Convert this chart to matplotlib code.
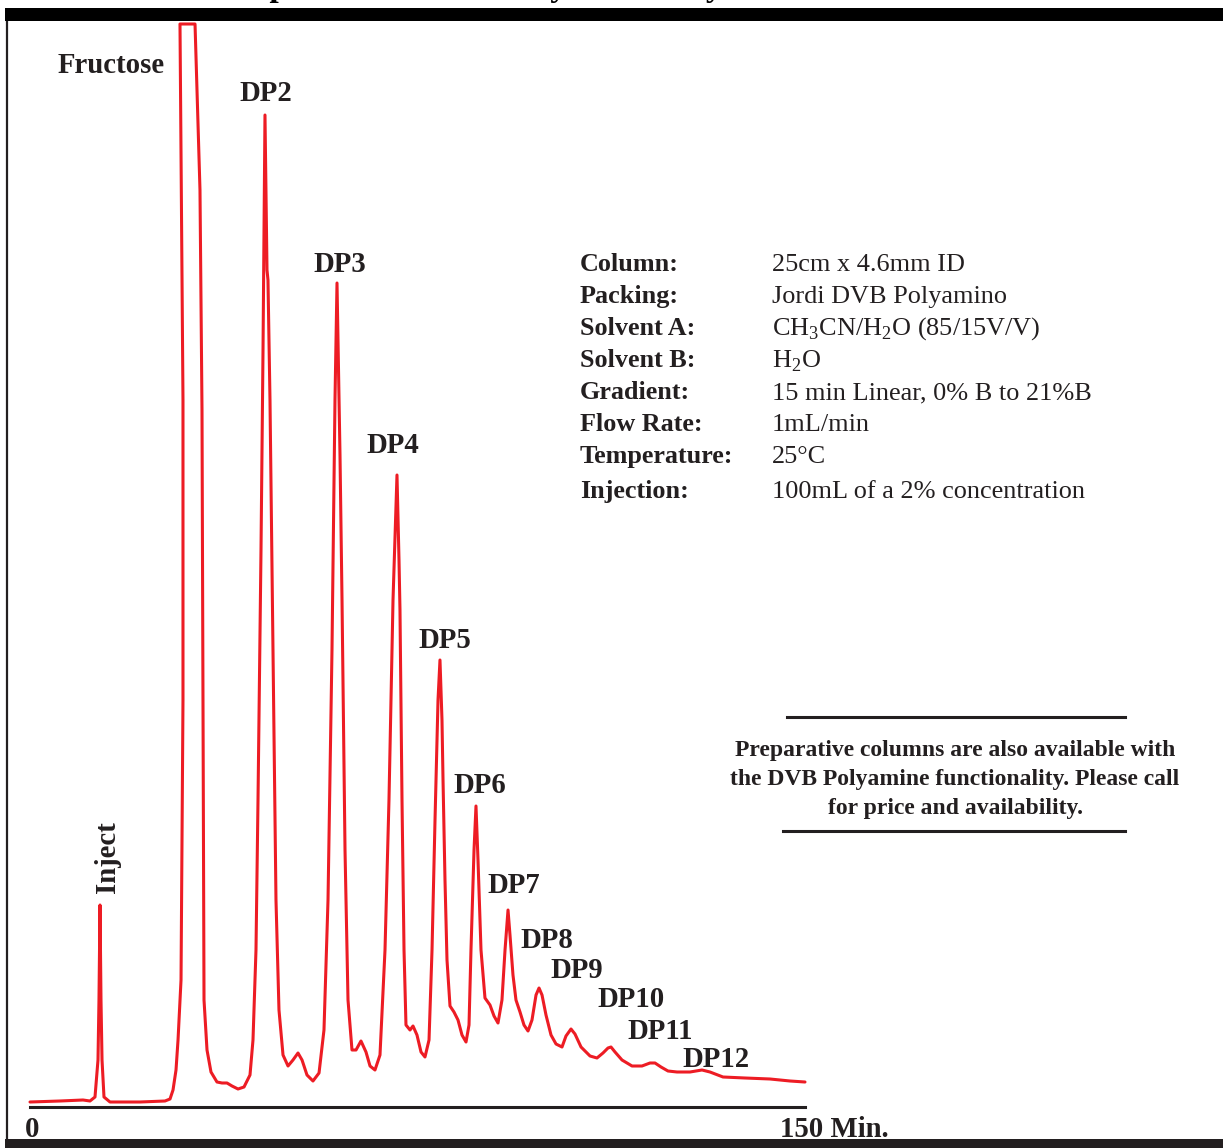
"""
Chromatogram: Jordi DVB Polyamino separation of fructose oligomers (DP2-DP12)
"""
import matplotlib
matplotlib.use('Agg')
import matplotlib.pyplot as plt
from matplotlib.patches import Rectangle
from matplotlib.lines import Line2D

plt.rcParams['font.family'] = ['Liberation Serif', 'DejaVu Serif']
plt.rcParams['mathtext.fontset'] = 'custom'
plt.rcParams['mathtext.rm'] = 'Liberation Serif'

# ---- data (time in min, detector signal in mV) ----
time_min = [
    0.00, 5.81, 10.26, 11.61, 12.58, 13.16, 13.35, 13.55, 13.74, 13.94, 14.32, 15.48, 21.29, 26.13,
    27.10, 27.68, 28.26, 28.65, 29.23, 29.61, 29.61, 29.03, 31.94, 32.90, 33.29, 33.48, 33.68,
    34.26, 35.03, 36.19, 37.16, 38.13, 39.10, 40.26, 41.42, 42.58,
    43.16, 43.74, 44.13, 44.71, 45.10, 45.48, 45.87, 46.06, 46.45, 47.03, 47.61, 48.19, 48.97,
    49.94, 50.90, 51.87, 52.65, 53.61, 54.77, 55.94,
    56.90, 57.68, 58.45, 59.03, 59.42, 59.81, 60.00, 60.39, 60.97, 61.55, 62.32, 63.10, 64.06,
    65.03, 65.81, 66.77, 67.74,
    68.71, 69.48, 70.26, 71.03, 71.42, 71.61, 72.00, 72.39, 72.77, 73.55, 74.13, 74.90, 75.68,
    76.45, 77.23,
    77.81, 78.39, 78.97, 79.35, 79.74, 79.94, 80.32, 80.71, 81.29, 82.06, 82.84, 83.61, 84.39,
    84.97, 85.35, 85.94, 86.32, 86.71, 87.29, 88.06, 89.03, 89.81, 90.58,
    91.35, 91.94, 92.52, 92.90, 93.48, 94.06, 94.84, 95.61, 96.39,
    97.16, 97.94, 98.52, 99.10, 99.87, 100.84, 101.81, 102.97,
    103.74, 104.71, 105.48, 106.65, 108.39, 109.74,
    110.90, 111.87, 112.45, 113.23, 114.58, 116.52,
    118.45, 120.00, 120.97, 122.13, 123.48, 125.23,
    127.74, 130.06, 131.61, 134.13, 138.39, 143.23, 147.10, 150.00,
]
signal_mv = [
    0.0, 0.1, 0.2, 0.1, 0.5, 4.2, 10.2, 19.7, 10.2, 4.2, 0.5, 0.0, 0.0, 0.1,
    0.3, 1.2, 3.2, 6.2, 12.2, 40.2, 70.2, 107.8, 107.8, 91.2, 69.2, 40.2, 10.2,
    5.2, 3.0, 2.0, 1.9, 1.9, 1.6, 1.3, 1.5, 2.7,
    6.2, 15.2, 30.2, 55.2, 75.2, 98.7, 83.2, 82.2, 70.2, 45.2, 20.2, 9.2, 4.7,
    3.6, 4.2, 4.9, 4.2, 2.7, 2.1, 2.9,
    7.2, 20.2, 45.2, 70.2, 81.9, 70.2, 64.7, 50.2, 25.2, 10.2, 5.2, 5.2, 6.1,
    5.0, 3.6, 3.2, 4.7,
    15.2, 30.2, 50.2, 62.7, 54.2, 49.2, 30.2, 15.2, 7.7, 7.2, 7.6, 6.7, 5.0,
    4.5, 6.2,
    15.2, 28.2, 40.2, 44.2, 38.2, 32.2, 22.2, 14.2, 9.6, 9.0, 8.2, 6.7, 6.0,
    7.7, 15.2, 25.2, 29.6, 24.2, 15.2, 10.4, 9.7, 8.6, 7.9,
    10.2, 15.2, 19.2, 16.7, 12.7, 10.2, 9.0, 7.7, 7.1,
    8.2, 10.7, 11.4, 10.7, 8.7, 6.7, 5.8, 5.5,
    6.6, 7.3, 6.8, 5.5, 4.6, 4.4,
    4.9, 5.4, 5.5, 5.0, 4.2, 3.6,
    3.6, 3.9, 3.9, 3.5, 3.1, 3.0,
    3.0, 3.2, 3.0, 2.5, 2.4, 2.3, 2.1, 2.0,
]

peak_names = ['Fructose', 'DP2', 'DP3', 'DP4', 'DP5', 'DP6', 'DP7',
              'DP8', 'DP9', 'DP10', 'DP11', 'DP12']

param_names = ['Column:', 'Packing:', 'Solvent A:', 'Solvent B:', 'Gradient:',
               'Flow Rate:', 'Temperature:', 'Injection:']
param_values = ['25cm x 4.6mm ID', 'Jordi DVB Polyamino',
                r'CH$_\mathregular{3}$CN/H$_\mathregular{2}$O (85/15V/V)',
                r'H$_\mathregular{2}$O', '15 min Linear, 0% B to 21%B',
                '1mL/min', '25°C', '100mL of a 2% concentration']

note_lines = ['Preparative columns are also available with',
              'the DVB Polyamine functionality. Please call',
              'for price and availability.']

# ---- layout (pixels of the 1223x1148 canvas) ----
W, H = 1223, 1148
TXT = '#231f20'
RED = '#ed1c24'


def fx(x):
    return x / W


def fy(y):
    return 1 - y / H


fig = plt.figure(figsize=(W / 100, H / 100), dpi=100)
fig.patch.set_facecolor('white')

# 外框：上黑条、左细线、下黑条
fig.patches.append(Rectangle((fx(5), fy(21)), 1 - fx(5), 13 / H, transform=fig.transFigure,
                             facecolor='black', edgecolor='none', zorder=5))
fig.patches.append(Rectangle((fx(5), 0), 1 - fx(5), 9 / H, transform=fig.transFigure,
                             facecolor=TXT, edgecolor='none', zorder=5))
fig.lines.append(Line2D([fx(7), fx(7)], [fy(1140), fy(20)], transform=fig.transFigure,
                        color=TXT, lw=1.6, zorder=5))

# title (cut off by the top of the page, only descenders show)
fig.text(fx(236), fy(-4), 'Separation of Inulin by Jordi Polyamino', fontsize=24,
         fontweight='bold', color='black', va='baseline', ha='left')

# chromatogram axes
ax = fig.add_axes([fx(30), fy(1107), 775 / W, (1107 - 24) / H])
ax.set_xlim(0, 150)
ax.set_ylim(-0.5, 107.8)
ax.patch.set_alpha(0)
for side in ['top', 'left', 'right']:
    ax.spines[side].set_visible(False)
ax.spines['bottom'].set_linewidth(2.2)
ax.spines['bottom'].set_color(TXT)
ax.set_xticks([])
ax.set_yticks([])

ax.plot(time_min, signal_mv, color=RED, lw=2.2, clip_on=False,
        solid_joinstyle='round', solid_capstyle='round')

# peak labels (left x, baseline y)
label_pos = [(58, 73), (239, 101), (313, 272), (366, 453), (418, 648), (453, 793),
             (487, 893), (520, 948), (550, 978), (597, 1007), (627, 1039), (682, 1067)]
for name, (x, y) in zip(peak_names, label_pos):
    fig.text(fx(x), fy(y), name, fontsize=20.7, fontweight='bold', color=TXT,
             ha='left', va='baseline')

fig.text(fx(108), fy(857), 'Inject', fontsize=20.7, fontweight='bold', color=TXT,
         rotation=90, ha='center', va='center')

# x axis end labels
fig.text(fx(25), fy(1137), '0', fontsize=20.7, fontweight='bold', color=TXT,
         ha='left', va='baseline')
fig.text(fx(780), fy(1137), '150 Min.', fontsize=20.7, fontweight='bold', color=TXT,
         ha='left', va='baseline')

# conditions block
row_base = [271, 303, 335, 367, 399, 431, 463, 498]
for name, val, yb in zip(param_names, param_values, row_base):
    fig.text(fx(580), fy(yb), name, fontsize=18.8, fontweight='bold', color=TXT,
             ha='left', va='baseline')
    fig.text(fx(772), fy(yb), val, fontsize=18.9, color=TXT, ha='left', va='baseline')

# note box
fig.lines.append(Line2D([fx(787), fx(1125)], [fy(717), fy(717)], transform=fig.transFigure,
                        color=TXT, lw=2.2))
fig.lines.append(Line2D([fx(783), fx(1125)], [fy(831), fy(831)], transform=fig.transFigure,
                        color=TXT, lw=2.2))
for line, yb in zip(note_lines, [756, 785, 814]):
    fig.text(fx(955), fy(yb), line, fontsize=17, fontweight='bold', color=TXT,
             ha='center', va='baseline')

fig.savefig('out.png', dpi=100)
plt.close(fig)
